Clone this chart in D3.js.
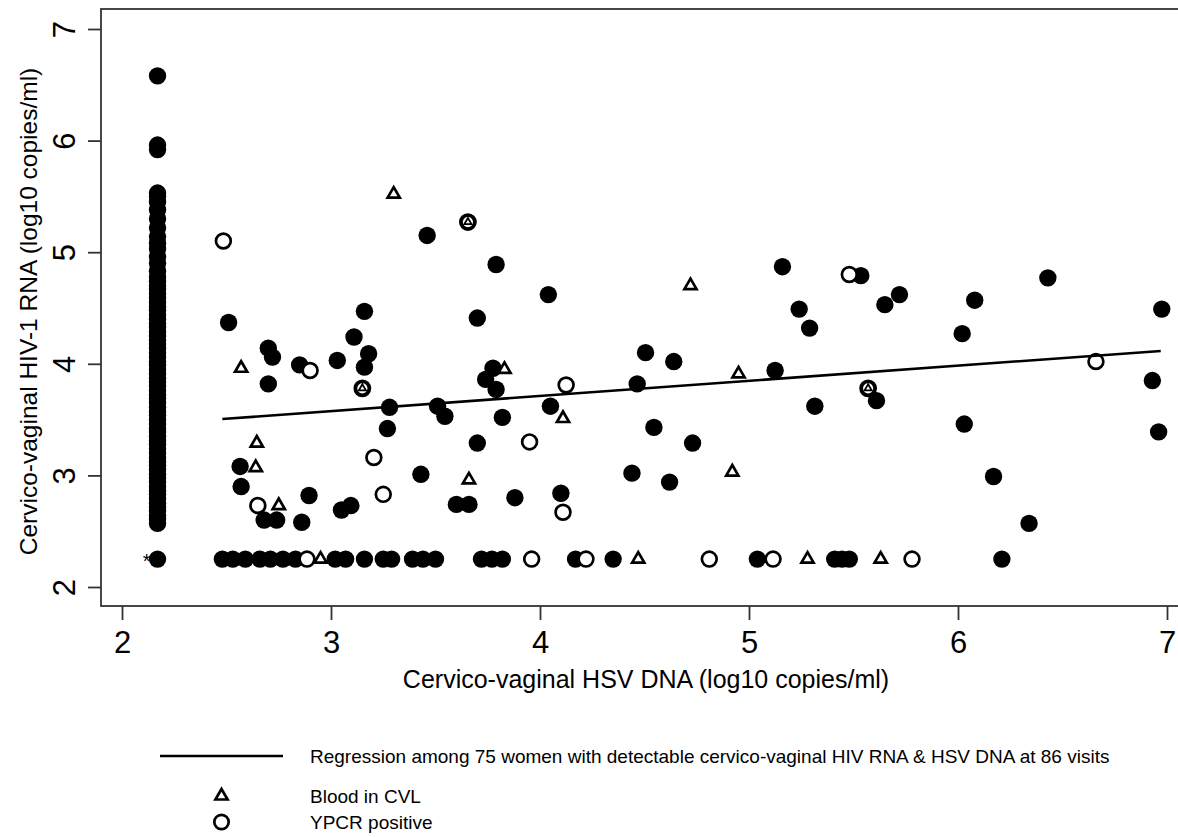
<!DOCTYPE html>
<html>
<head>
<meta charset="utf-8">
<script src="https://cdn.jsdelivr.net/npm/d3@7"></script>
<style>
  body { margin: 0; background: #fff; }
  text { font-family: "Liberation Sans", Arial, sans-serif; fill: #000; }
</style>
</head>
<body>
<div id="chart"></div>
<script>
// ---- data ----
const xTicks = [2, 3, 4, 5, 6, 7];
const yTicks = [2, 3, 4, 5, 6, 7];

// visits with HSV DNA below detection, plotted at x = 2.17
const undetectedX = 2.17;
const undetectedY = [
  2.25, 2.57, 2.61, 2.64, 2.68, 2.72, 2.75, 2.79, 2.83, 2.86, 2.9, 2.94, 2.98, 3.01,
  3.05, 3.09, 3.12, 3.16, 3.2, 3.24, 3.28, 3.31, 3.35, 3.39, 3.42, 3.46, 3.5, 3.54,
  3.57, 3.61, 3.65, 3.69, 3.72, 3.76, 3.8, 3.84, 3.87, 3.91, 3.95, 3.99, 4.02, 4.06,
  4.1, 4.14, 4.18, 4.21, 4.25, 4.29, 4.33, 4.36, 4.4, 4.44, 4.48, 4.51, 4.55, 4.59,
  4.63, 4.67, 4.7, 4.74, 4.78, 4.83, 4.9, 4.96, 5.03, 5.08, 5.14, 5.22, 5.3, 5.38,
  5.45, 5.5, 5.53, 5.92, 5.96, 6.58
];

// detectable HSV DNA, plain visits
const filledPoints = [
  [2.48, 2.25], [2.53, 2.25], [2.59, 2.25], [2.66, 2.25], [2.71, 2.25], [2.77, 2.25],
  [2.83, 2.25], [3.02, 2.25], [3.07, 2.25], [3.16, 2.25], [3.25, 2.25], [3.29, 2.25],
  [3.39, 2.25], [3.44, 2.25], [3.50, 2.25], [3.72, 2.25], [3.77, 2.25], [3.82, 2.25],
  [4.17, 2.25], [4.35, 2.25], [5.04, 2.25], [5.41, 2.25], [5.445, 2.25], [5.48, 2.25],
  [6.21, 2.25],
  [2.51, 4.37], [2.70, 4.14], [2.72, 4.06], [2.70, 3.82], [2.85, 3.99], [3.03, 4.03],
  [3.11, 4.24], [3.16, 4.47], [3.18, 4.09], [3.16, 3.97], [3.28, 3.61], [3.27, 3.42],
  [2.565, 3.08], [2.57, 2.90], [2.68, 2.60], [2.74, 2.60], [2.86, 2.58], [2.895, 2.82],
  [3.05, 2.69], [3.095, 2.73], [3.46, 5.15], [3.79, 4.89], [4.04, 4.62], [3.70, 4.41],
  [5.16, 4.87], [4.505, 4.10], [4.64, 4.02], [5.125, 3.94], [3.51, 3.62], [3.545, 3.53],
  [3.775, 3.96], [3.74, 3.86], [3.79, 3.77], [4.465, 3.82], [4.05, 3.62], [3.82, 3.52],
  [4.545, 3.43], [4.73, 3.29], [3.70, 3.29], [3.43, 3.01], [4.44, 3.02], [4.62, 2.94],
  [3.60, 2.74], [3.66, 2.74], [3.88, 2.80], [4.10, 2.84], [5.535, 4.79], [6.43, 4.77],
  [5.24, 4.49], [5.29, 4.32], [5.65, 4.53], [5.72, 4.62], [6.08, 4.57], [6.02, 4.27],
  [6.975, 4.49], [5.315, 3.62], [5.61, 3.67], [6.03, 3.46], [6.17, 2.99], [6.34, 2.57],
  [6.93, 3.85], [6.96, 3.39]
];

// YPCR positive
const ypcrPoints = [
  [2.885, 2.25], [3.96, 2.25], [4.22, 2.25], [4.81, 2.25], [5.115, 2.25], [5.78, 2.25],
  [2.485, 5.10], [2.90, 3.94], [3.205, 3.16], [3.25, 2.83], [2.65, 2.73], [4.125, 3.81],
  [3.95, 3.30], [4.11, 2.67], [5.48, 4.80], [6.66, 4.02]
];

// blood in CVL
const bloodPoints = [
  [2.95, 2.25], [4.47, 2.25], [5.28, 2.25], [5.63, 2.25],
  [2.57, 3.96], [2.645, 3.29], [2.64, 3.07], [2.75, 2.73], [3.30, 5.52], [4.72, 4.70],
  [3.83, 3.95], [4.11, 3.51], [3.66, 2.96], [4.95, 3.91], [4.92, 3.03]
];

// blood in CVL and YPCR positive
const bothPoints = [[3.15, 3.78], [3.655, 5.27], [5.57, 3.78]];

// fitted regression line end points
const regX = [2.48, 6.97];
const regY = [3.505, 4.115];

const legendLabels = [
  "Regression among 75 women with detectable cervico-vaginal HIV RNA & HSV DNA at 86 visits",
  "Blood in CVL",
  "YPCR positive"
];

// ---- layout ----
const fullWidth = 1178;
const fullHeight = 837;
const frame = { left: 101, top: 9, right: 1182, bottom: 606 };

const svg = d3.select("#chart")
  .append("svg")
  .attr("width", fullWidth)
  .attr("height", fullHeight);

// Scales
const xScale = d3.scaleLinear().domain([2, 7]).range([122, 1167]);
const yScale = d3.scaleLinear().domain([2, 7]).range([587, 29]);

// plot frame
svg.append("rect")
  .attr("x", frame.left)
  .attr("y", frame.top)
  .attr("width", frame.right - frame.left)
  .attr("height", frame.bottom - frame.top)
  .attr("fill", "none")
  .attr("stroke", "#333")
  .attr("stroke-width", 1.8);

// X axis
const xAxis = svg.append("g")
  .attr("transform", `translate(0,${frame.bottom})`)
  .call(d3.axisBottom(xScale).tickValues(xTicks).tickSize(14).tickPadding(11).tickFormat(d3.format("d")));
xAxis.select(".domain").remove();
xAxis.selectAll("line").attr("stroke", "#333").attr("stroke-width", 1.8);
xAxis.selectAll("text")
  .attr("font-family", "Liberation Sans, Arial, sans-serif")
  .style("font-size", "31px");

// Y axis (labels rotated like the original)
const yAxis = svg.append("g")
  .attr("transform", `translate(${frame.left},0)`)
  .call(d3.axisLeft(yScale).tickValues(yTicks).tickSize(13).tickFormat(d3.format("d")));
yAxis.select(".domain").remove();
yAxis.selectAll("line").attr("stroke", "#333").attr("stroke-width", 1.8);
yAxis.selectAll("text")
  .attr("x", null).attr("dy", null)
  .attr("text-anchor", "middle")
  .attr("transform", "translate(-26,0) rotate(-90)")
  .attr("font-family", "Liberation Sans, Arial, sans-serif")
  .style("font-size", "31px");

// Axis titles
svg.append("text")
  .attr("x", 646)
  .attr("y", 688)
  .attr("text-anchor", "middle")
  .style("font-size", "25px")
  .text("Cervico-vaginal HSV DNA (log10 copies/ml)");

svg.append("text")
  .attr("transform", `translate(37,${(frame.top + frame.bottom) / 2 + 4}) rotate(-90)`)
  .attr("text-anchor", "middle")
  .style("font-size", "24.5px")
  .text("Cervico-vaginal HIV-1 RNA (log10 copies/ml)");

// Markers
const plot = svg.append("g");

plot.selectAll(".undet")
  .data(undetectedY)
  .join("circle")
  .attr("cx", xScale(undetectedX))
  .attr("cy", d => yScale(d))
  .attr("r", 8.7)
  .attr("fill", "#000");

plot.append("text")
  .attr("x", xScale(undetectedX) - 11)
  .attr("y", yScale(2.25) + 9)
  .attr("text-anchor", "middle")
  .style("font-size", "20px")
  .text("*");

plot.selectAll(".filled")
  .data(filledPoints)
  .join("circle")
  .attr("cx", d => xScale(d[0]))
  .attr("cy", d => yScale(d[1]))
  .attr("r", 8.7)
  .attr("fill", "#000");

plot.selectAll(".ypcr")
  .data(ypcrPoints)
  .join("circle")
  .attr("cx", d => xScale(d[0]))
  .attr("cy", d => yScale(d[1]))
  .attr("r", 7.4)
  .attr("fill", "#fff")
  .attr("stroke", "#000")
  .attr("stroke-width", 2.7);

const tri = d3.symbol(d3.symbolTriangle).size(64);
const smallTri = d3.symbol(d3.symbolTriangle).size(22);

plot.selectAll(".blood")
  .data(bloodPoints)
  .join("path")
  .attr("transform", d => `translate(${xScale(d[0])},${yScale(d[1])})`)
  .attr("d", tri)
  .attr("fill", "#fff")
  .attr("stroke", "#000")
  .attr("stroke-width", 2.7)
  .attr("stroke-linejoin", "miter");

const both = plot.selectAll(".both")
  .data(bothPoints)
  .join("g")
  .attr("transform", d => `translate(${xScale(d[0])},${yScale(d[1])})`);
both.append("circle")
  .attr("r", 7)
  .attr("fill", "#fff")
  .attr("stroke", "#000")
  .attr("stroke-width", 3.8);
both.append("path")
  .attr("d", smallTri)
  .attr("fill", "#fff")
  .attr("stroke", "#000")
  .attr("stroke-width", 1.8);

// Regression line
const line = d3.line()
  .x(d => xScale(d[0]))
  .y(d => yScale(d[1]));

plot.append("path")
  .datum(regX.map((x, i) => [x, regY[i]]))
  .attr("fill", "none")
  .attr("stroke", "#000")
  .attr("stroke-width", 2.6)
  .attr("d", line);

// Legend
const legend = svg.append("g");
const legendRows = [756, 796, 822];
const keyX0 = 160, keyX1 = 283, keyMid = (keyX0 + keyX1) / 2, labelX = 310;

legend.append("line")
  .attr("x1", keyX0).attr("x2", keyX1)
  .attr("y1", legendRows[0]).attr("y2", legendRows[0])
  .attr("stroke", "#000")
  .attr("stroke-width", 2.6);

legend.append("path")
  .attr("transform", `translate(${keyMid},${legendRows[1]})`)
  .attr("d", tri)
  .attr("fill", "#fff")
  .attr("stroke", "#000")
  .attr("stroke-width", 2.7);

legend.append("circle")
  .attr("cx", keyMid)
  .attr("cy", legendRows[2])
  .attr("r", 7.2)
  .attr("fill", "#fff")
  .attr("stroke", "#000")
  .attr("stroke-width", 2.7);

legend.selectAll(".lab")
  .data(legendLabels)
  .join("text")
  .attr("x", labelX)
  .attr("y", (d, i) => legendRows[i])
  .attr("dy", "0.35em")
  .style("font-size", "19px")
  .text(d => d);
</script>
</body>
</html>
